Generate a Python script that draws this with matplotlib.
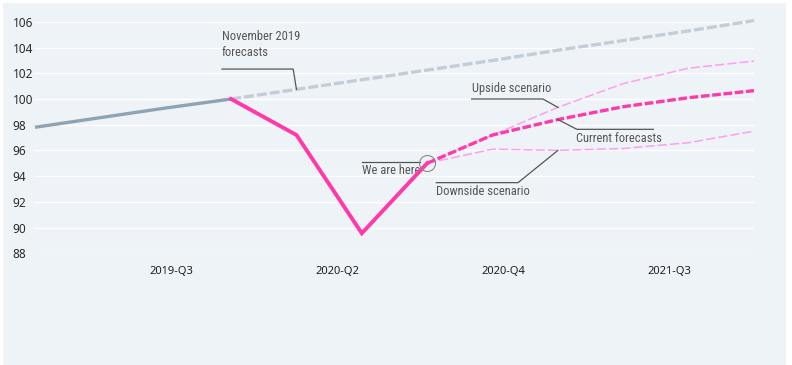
import numpy as np
import matplotlib
matplotlib.use("Agg")
import matplotlib.pyplot as plt
from matplotlib.patches import Rectangle

# GDP index, quarterly (0 = 2019-Q1)
nov_2019 = [97.8, 98.55, 99.3, 100.0, 100.75, 101.5, 102.25, 103.0, 103.8, 104.55, 105.3, 106.1]
actual = [100.0, 97.2, 89.55, 95.0]
current = [95.0, 97.2, 98.4, 99.4, 100.1, 100.65]
upside = [95.0, 97.2, 99.35, 101.2, 102.4, 102.95]
downside = [95.0, 96.1, 96.0, 96.15, 96.6, 97.5]

y_ticks = [88, 90, 92, 94, 96, 98, 100, 102, 104, 106]
x_tick_labels = ["2019-Q3", "2020-Q2", "2020-Q4", "2021-Q3"]
x_tick_pos = [2.08, 4.63, 7.16, 9.71]

BG = "#eef3f8"
PINK = "#ff3aa8"
LIGHT_PINK = "#ff9ef0"
GREY_SOLID = "#8ea3b3"
GREY_DASH = "#c2cdd7"
NOTE = "#555555"
NARROW = ["Roboto Condensed", "Archivo Narrow", "Liberation Sans Narrow", "DejaVu Sans"]
TICKS = ["Noto Sans", "DejaVu Sans"]

fig = plt.figure(figsize=(7.92, 3.65), dpi=100, facecolor="white")
fig.patches.append(Rectangle((3 / 792, 0), 783 / 792, 362 / 365,
                             transform=fig.transFigure, facecolor=BG,
                             edgecolor="none", zorder=-10))

W, H = 792, 365
ax = fig.add_axes([35 / W, 1 - 253.2 / H, 719 / W, (253.2 - 21.9) / H])
ax.set_facecolor("none")
ax.set_xlim(0, 11.0)
ax.set_ylim(88, 106)
for s in ax.spines.values():
    s.set_visible(False)

ax.set_yticks(y_ticks)
ax.grid(axis="y", color="white", lw=1.0)
ax.set_axisbelow(True)
ax.tick_params(axis="y", length=0, pad=16, labelsize=8.5, labelcolor="#2a2a2a")
for lab in ax.get_yticklabels():
    lab.set_horizontalalignment("left")
    lab.set_family(TICKS)
ax.set_xticks(x_tick_pos)
ax.set_xticklabels(x_tick_labels, family=TICKS)
ax.tick_params(axis="x", length=0, pad=9, labelsize=8, labelcolor="#1e1e1e")

q = np.arange(len(nov_2019))
q_act = np.arange(3, 3 + len(actual))
q_fc = np.arange(6, 6 + len(current))

# November 2019 path: history solid, forecast dashed
ax.plot(q[:4], nov_2019[:4], color=GREY_SOLID, lw=2.4, solid_capstyle="butt",
        clip_on=False, zorder=3)
ax.plot(q[3:], nov_2019[3:], color=GREY_DASH, lw=2.4, dashes=(3, 0.9),
        clip_on=False, zorder=2)

ax.plot(q_act, actual, color=PINK, lw=2.8, solid_joinstyle="miter",
        clip_on=False, zorder=5)
ax.plot(q_fc, upside, color=LIGHT_PINK, lw=1.1, dashes=(6, 2), zorder=3)
ax.plot(q_fc, downside, color=LIGHT_PINK, lw=1.1, dashes=(6, 2), zorder=3)
ax.plot(q_fc, current, color=PINK, lw=2.4, dashes=(2.6, 0.8), zorder=4)

# annotations
lw_note = 0.9
ax.plot([2.86, 3.95, 4.0], [102.33, 102.33, 100.75], color=NOTE, lw=lw_note, zorder=6)
ax.text(2.86, 105.35, "November 2019\nforecasts", family=NARROW, fontsize=9,
        color=NOTE, va="top", ha="left", linespacing=1.3)

ax.plot([6.68, 7.77, 8.0], [100.0, 100.0, 99.35], color=NOTE, lw=lw_note, zorder=6)
ax.text(6.68, 100.3, "Upside scenario", family=NARROW, fontsize=9,
        color=NOTE, va="bottom", ha="left")

ax.plot([8.0, 8.29, 9.46], [98.4, 97.64, 97.64], color=NOTE, lw=lw_note, zorder=6)
ax.text(8.27, 97.45, "Current forecasts", family=NARROW, fontsize=9,
        color=NOTE, va="top", ha="left")

ax.plot([8.0, 7.39, 6.14], [96.0, 93.49, 93.49], color=NOTE, lw=lw_note, zorder=6)
ax.text(6.14, 93.3, "Downside scenario", family=NARROW, fontsize=9,
        color=NOTE, va="top", ha="left")

ax.plot([5.0, 5.89], [95.12, 95.12], color=NOTE, lw=lw_note, zorder=6)
ax.plot([6], [actual[-1]], marker="o", ms=11.5, mfc="none", mec="#8a8a8a",
        mew=0.8, zorder=7)
ax.text(5.01, 94.95, "We are here", family=NARROW, fontsize=9,
        color=NOTE, va="top", ha="left")

fig.savefig("out.png", dpi=100, facecolor=fig.get_facecolor())
